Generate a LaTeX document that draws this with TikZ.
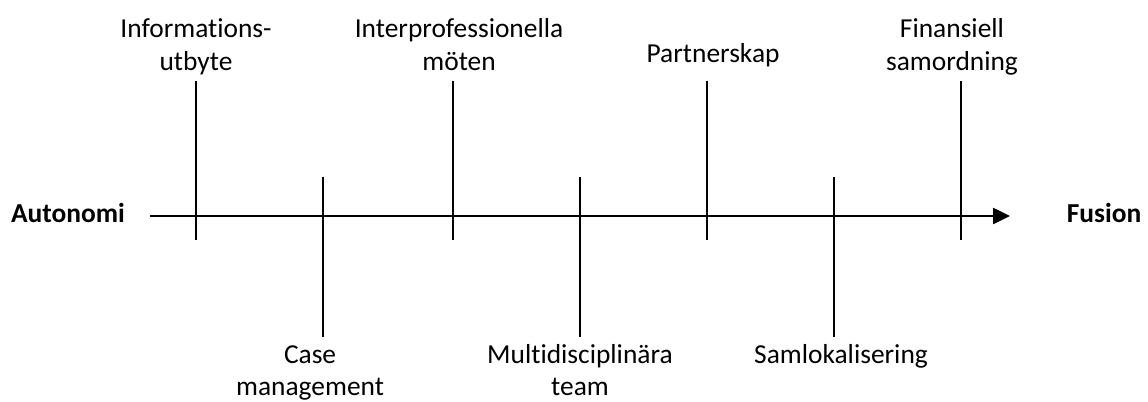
\documentclass[tikz,border=0pt]{standalone}
\usepackage{fontspec}
\setmainfont{Carlito}[Ligatures=NoCommon]
\usetikzlibrary{positioning,arrows.meta}

\begin{document}
\begin{tikzpicture}[x=0.025cm,y=-0.025cm,
  lbl/.style={align=center,font=\fontsize{19.5}{23}\selectfont,inner sep=0.7pt},
  endlbl/.style={font=\fontsize{19.5}{23}\selectfont\bfseries,inner sep=0pt,anchor=base},
  tickline/.style={line width=1.1pt},
  axisline/.style={line width=1.1pt,-{Triangle[length=12pt,width=11.5pt]}}]
\useasboundingbox (0,0) rectangle (1148,401);

% the axis
\coordinate (axstart) at (150,216);
\coordinate (axend) at (1010,216);
\draw[axisline] (axstart) -- (axend);
\node[endlbl] (autonomi) at (68,222) {Autonomi};
\node[endlbl] (fusion) at (1104,222) {Fusion};

% ticks above
\coordinate (t1a) at (196,81);  \coordinate (t1b) at (196,240);
\coordinate (t3a) at (453,81);  \coordinate (t3b) at (453,240);
\coordinate (t5a) at (707,81);  \coordinate (t5b) at (707,240);
\coordinate (t7a) at (961,81);  \coordinate (t7b) at (961,240);
\draw[tickline] (t1a) -- (t1b);
\draw[tickline] (t3a) -- (t3b);
\draw[tickline] (t5a) -- (t5b);
\draw[tickline] (t7a) -- (t7b);

% ticks below
\coordinate (t2a) at (323,177); \coordinate (t2b) at (323,337);
\coordinate (t4a) at (580,177); \coordinate (t4b) at (580,337);
\coordinate (t6a) at (834,177); \coordinate (t6b) at (834,337);
\draw[tickline] (t2a) -- (t2b);
\draw[tickline] (t4a) -- (t4b);
\draw[tickline] (t6a) -- (t6b);

% labels
\node[lbl,above=0pt of t1a] (info) {Informations-\\utbyte\strut};
\node[lbl,above=0pt of t3a,xshift=4.3pt] (interprof) {Interprofessionella\\möten\strut};
\node[lbl,above=5.5pt of t5a,xshift=4.3pt] (partner) {Partnerskap\strut};
\node[lbl,above=0pt of t7a,xshift=-6.4pt] (finans) {Finansiell\\samordning\strut};
\node[lbl,below=1.5pt of t2b,xshift=-9.2pt] (casem) {\strut Case\\management};
\node[lbl,below=1.5pt of t4b] (multi) {\strut Multidisciplinära\\team};
\node[lbl,below=1.5pt of t6b,xshift=5pt] (samlok) {\strut Samlokalisering};
\end{tikzpicture}
\end{document}
